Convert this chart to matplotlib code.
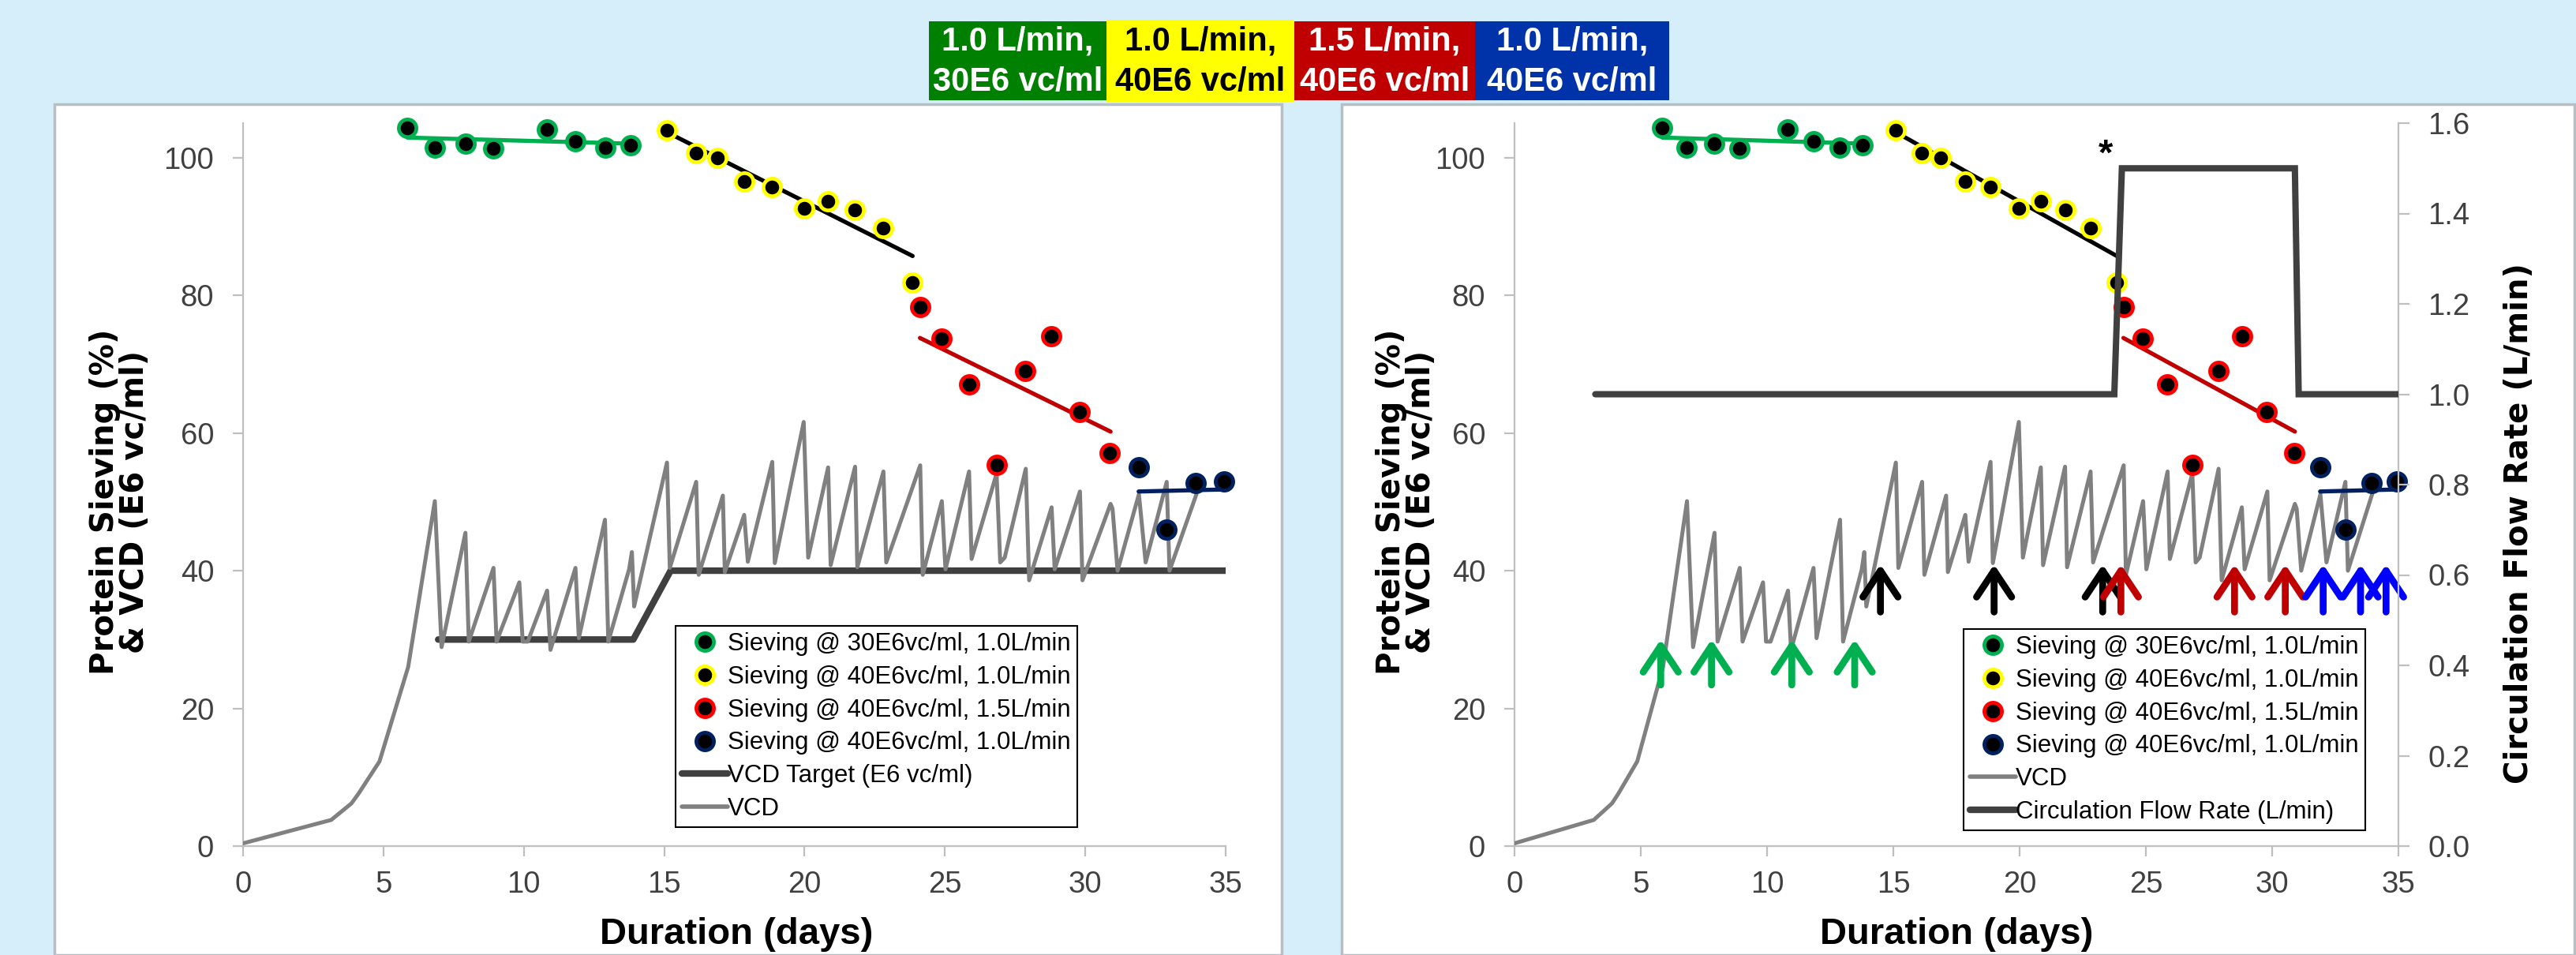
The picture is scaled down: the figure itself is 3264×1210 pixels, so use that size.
import matplotlib
matplotlib.use('Agg')
import matplotlib.pyplot as plt
from matplotlib import font_manager
from matplotlib.patches import Rectangle
from matplotlib.lines import Line2D

# ---- data ----
green_x = [5.85, 6.82, 7.92, 8.91, 10.82, 11.84, 12.89, 13.79]
green_y = [104.3, 101.5, 102.0, 101.3, 104.1, 102.4, 101.5, 101.8]
green_fit_x = [5.85, 14.0]
green_fit_y = [102.9, 102.0]

yellow_x = [15.09, 16.14, 16.89, 17.85, 18.83, 19.98, 20.83, 21.80, 22.81, 23.84]
yellow_y = [104.0, 100.6, 100.0, 96.5, 95.7, 92.6, 93.7, 92.4, 89.8, 81.9]
yellow_fit_x = [15.09, 23.85]
yellow_fit_y = [103.7, 85.7]

red_x = [24.11, 24.88, 25.85, 26.84, 27.87, 28.80, 29.79, 30.87]
red_y = [78.3, 73.7, 67.1, 55.4, 69.0, 74.1, 63.0, 57.1]
red_fit_x = [24.11, 30.9]
red_fit_y = [73.8, 60.2]

blue_x = [31.92, 32.90, 33.93, 34.94]
blue_y = [55.0, 46.0, 52.7, 53.0]
blue_fit_x = [31.9, 35.0]
blue_fit_y = [51.5, 51.8]

vcd_x = [0, 3.14, 3.86, 4.11, 4.86, 5.88, 6.83, 7.07, 7.92, 8.04, 8.92, 9.03,
         9.84, 9.96, 10.14, 10.83, 10.95, 11.84, 11.96, 12.89, 13.01, 13.75,
         13.85, 13.93, 15.1, 15.2, 16.14, 16.23, 17.09, 17.16, 17.85, 17.98,
         18.85, 18.94, 19.97, 20.13, 20.84, 20.93, 21.8, 21.88, 22.81, 22.91,
         24.12, 24.21, 24.89, 25.02, 25.86, 25.95, 26.84, 26.97, 27.13, 27.88,
         28.0, 28.8, 28.91, 29.81, 29.9, 30.9, 30.97, 31.15, 31.91, 32.15,
         32.9, 33.0, 33.95]
vcd_y = [0.4, 3.8, 6.2, 7.6, 12.3, 26.0, 50.1, 28.9, 45.5, 29.7, 40.4, 29.7,
         38.3, 29.7, 29.7, 37.1, 28.5, 40.4, 30.2, 47.4, 29.7, 40.2,
         42.7, 34.8, 55.7, 40.4, 52.9, 39.4, 50.9, 39.8, 48.1, 41.3,
         55.8, 41.1, 61.6, 41.9, 55.0, 40.8, 55.1, 40.5, 54.4, 41.2,
         55.3, 39.4, 50.1, 40.2, 54.4, 41.7, 54.1, 41.2, 41.9, 54.8,
         38.6, 49.2, 40.2, 51.5, 38.6, 49.7, 49.0, 40.0, 51.1, 41.2,
         52.9, 40.0, 51.0]

target_x = [6.95, 13.9, 15.23, 35.0]
target_y = [30, 30, 40, 40]

flow_x = [3.2, 23.75, 24.05, 30.9, 31.05, 35.0]
flow_y = [1.0, 1.0, 1.5, 1.5, 1.0, 1.0]

# arrows on right chart: x positions, (tail, tip) in primary axis units
arrow_green_x = [5.79, 7.80, 10.98, 13.47]
arrow_black_x = [14.49, 18.99, 23.29]
arrow_red_x = [24.01, 28.51, 30.52]
arrow_blue_x = [32.02, 33.5, 34.51]
arrow_low = (23.4, 30.0)
arrow_high = (34.0, 40.9)

cond_labels = ['1.0 L/min,\n30E6 vc/ml', '1.0 L/min,\n40E6 vc/ml',
               '1.5 L/min,\n40E6 vc/ml', '1.0 L/min,\n40E6 vc/ml']
cond_colors = ['#008000', '#FFFF00', '#C00000', '#0033AA']
cond_text = ['white', 'black', 'white', 'white']

sieve_labels = ['Sieving @ 30E6vc/ml, 1.0L/min', 'Sieving @ 40E6vc/ml, 1.0L/min',
                'Sieving @ 40E6vc/ml, 1.5L/min', 'Sieving @ 40E6vc/ml, 1.0L/min']


def have(name):
    try:
        font_manager.findfont(name, fallback_to_default=False)
        return True
    except Exception:
        return False


NARROW = 'Liberation Sans Narrow' if have('Liberation Sans Narrow') else 'Liberation Sans'
plt.rcParams['font.family'] = [NARROW, 'DejaVu Sans']

W, H = 3264, 1210
def fx(x): return x / W
def fy(y): return 1 - y / H

fig = plt.figure(figsize=(W / 100, H / 100), dpi=100)
fig.patch.set_facecolor('#D6EEF9')

# white panels
for x0, x1 in [(69, 1624), (1700, 3262)]:
    fig.add_artist(Rectangle((fx(x0), 0), fx(x1) - fx(x0), fy(132), transform=fig.transFigure,
                             facecolor='white', edgecolor='#B8BEC4', lw=2.5, zorder=0))

# condition boxes at the top
box_x = [1177, 1402, 1640, 1869, 2115]
for i in range(4):
    y0, y1 = (25, 129) if i == 1 else (27, 127)
    fig.add_artist(Rectangle((fx(box_x[i]), fy(y1)), fx(box_x[i + 1]) - fx(box_x[i]), fy(y0) - fy(y1),
                             transform=fig.transFigure, facecolor=cond_colors[i], edgecolor='none', zorder=1))
    l1, l2 = cond_labels[i].split('\n')
    xc = fx((box_x[i] + box_x[i + 1]) / 2)
    fig.text(xc, fy(52), l1, ha='center', va='center', fontsize=30, fontweight='bold', color=cond_text[i], zorder=2)
    fig.text(xc, fy(104), l2, ha='center', va='center', fontsize=30, fontweight='bold', color=cond_text[i], zorder=2)

GRAY = '#BFBFBF'
TXT = '#404040'
ring = dict(marker='o', ms=16, mew=3.4, mfc='black', ls='none')
series = [(green_x, green_y, '#00B050', green_fit_x, green_fit_y, '#00B050'),
          (yellow_x, yellow_y, '#FFFF00', yellow_fit_x, yellow_fit_y, 'black'),
          (red_x, red_y, '#FF0000', red_fit_x, red_fit_y, '#C00000'),
          (blue_x, blue_y, '#002060', blue_fit_x, blue_fit_y, '#002060')]


def style_axis(ax):
    ax.set_facecolor('none')
    ax.set_xlim(0, 35)
    ax.set_ylim(0, 105)
    ax.set_xticks(range(0, 36, 5))
    ax.set_yticks(range(0, 101, 20))
    for s in ['top', 'right']:
        ax.spines[s].set_visible(False)
    for s in ['left', 'bottom']:
        ax.spines[s].set_color(GRAY)
        ax.spines[s].set_linewidth(1.6)
    ax.tick_params(colors=GRAY, labelcolor=TXT, labelsize=27.5, length=9.5, width=1.6, direction='out')
    ax.tick_params(axis='x', pad=13)
    ax.tick_params(axis='y', pad=17)


def draw_common(ax, with_target):
    if with_target:
        ax.plot(target_x, target_y, color='#404040', lw=6, solid_capstyle='round', solid_joinstyle='round', zorder=2)
    ax.plot(vcd_x, vcd_y, color='#808080', lw=3.6, solid_joinstyle='round', zorder=3)
    for xs, ys, c, fxs, fys, fc in series:
        ax.plot(fxs, fys, color=fc, lw=3.8, solid_capstyle='round', zorder=4, clip_on=False)
    for xs, ys, c, fxs, fys, fc in series:
        ax.plot(xs, ys, mec=c, zorder=5, clip_on=False, **ring)


def sieve_handles():
    return [Line2D([], [], mec=c, **ring) for _, _, c, _, _, _ in series]


leg_kw = dict(loc='upper left', bbox_transform=fig.transFigure, frameon=True, fancybox=False,
              edgecolor='black', framealpha=1, fontsize=22.5, borderpad=0.25, labelspacing=0.38,
              handlelength=1.85, handletextpad=0.02, borderaxespad=0)

# ---- left chart ----
ax1 = fig.add_axes([fx(308), fy(1072), fx(1553) - fx(308), fy(156) - fy(1072)])
style_axis(ax1)
draw_common(ax1, True)
h = sieve_handles() + [Line2D([], [], color='#404040', lw=6, solid_capstyle='round'),
                       Line2D([], [], color='#808080', lw=4, solid_capstyle='round')]
lg = ax1.legend(h, sieve_labels + ['VCD Target (E6 vc/ml)', 'VCD'],
                bbox_to_anchor=(fx(856), fy(793)), **leg_kw)
lg.get_frame().set_linewidth(1.5)
lg.set_zorder(10)

# ---- right chart ----
ax2 = fig.add_axes([fx(1919), fy(1072), fx(3039) - fx(1919), fy(156) - fy(1072)])
style_axis(ax2)
draw_common(ax2, False)

arrow_sets = [(arrow_green_x, '#00B050', arrow_low), (arrow_black_x, 'black', arrow_high),
              (arrow_red_x, '#C00000', arrow_high), (arrow_blue_x, '#0000FF', arrow_high)]
for xs, c, (lo, hi) in arrow_sets:
    for x in xs:
        ax2.annotate('', xy=(x, hi), xytext=(x, lo),
                     arrowprops=dict(arrowstyle='->,head_length=1.2,head_width=0.8', color=c, lw=6.3,
                                     mutation_scale=20, shrinkA=0, shrinkB=0,
                                     capstyle='round', joinstyle='round'), zorder=6)
ax2.text(23.4, 100.3, '*', ha='center', va='center', fontsize=34, fontweight='bold', color='black', zorder=6)

ax3 = ax2.twinx()
ax3.set_ylim(0, 1.6)
ax3.set_yticks([0.0, 0.2, 0.4, 0.6, 0.8, 1.0, 1.2, 1.4, 1.6])
ax3.set_yticklabels(['%.1f' % v for v in ax3.get_yticks()])
for s in ['top', 'left', 'bottom']:
    ax3.spines[s].set_visible(False)
ax3.spines['right'].set_color(GRAY)
ax3.spines['right'].set_linewidth(1.6)
ax3.tick_params(colors=GRAY, labelcolor=TXT, labelsize=27.5, length=10, width=1.6, pad=17)
ax3.plot(flow_x, flow_y, color='#404040', lw=5.8, solid_capstyle='round', solid_joinstyle='miter', zorder=5)
h = sieve_handles() + [Line2D([], [], color='#808080', lw=4, solid_capstyle='round'),
                       Line2D([], [], color='#404040', lw=6, solid_capstyle='round')]
lg = ax3.legend(h, sieve_labels + ['VCD', 'Circulation Flow Rate (L/min)'],
                bbox_to_anchor=(fx(2488), fy(797)), **leg_kw)
lg.get_frame().set_linewidth(1.5)
lg.set_zorder(10)

# ---- axis titles ----
ylab = 'Protein Sieving (%)\n& VCD (E6 vc/ml)'
for xc in (152, 1782):
    fig.text(fx(xc), fy(636), ylab, rotation=90, ha='center', va='center', multialignment='center',
             fontsize=29, fontweight='bold', family='DejaVu Sans', linespacing=0.95)
fig.text(fx(3192), fy(663), 'Circulation Flow Rate (L/min)', rotation=90, ha='center', va='center',
         fontsize=29, fontweight='bold', family='DejaVu Sans')
for xc in (933, 2479):
    fig.text(fx(xc), fy(1184), 'Duration (days)', ha='center', va='center', fontsize=34, fontweight='bold')

fig.savefig('out.png', dpi=100, facecolor=fig.get_facecolor())
